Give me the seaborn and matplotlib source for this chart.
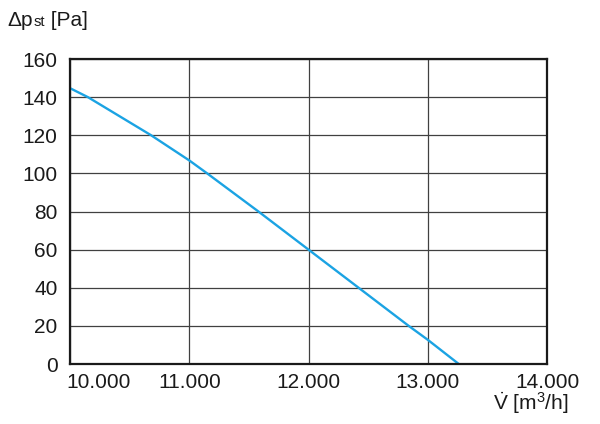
import matplotlib
matplotlib.use("Agg")
import matplotlib.pyplot as plt
import matplotlib.transforms as mtransforms
import seaborn as sns
import pandas as pd

# fan curve
flow = [10000, 10150, 10680, 11000, 11150, 11580, 12000, 12420, 12840, 13000, 13260]
pressure = [144.7, 140, 120, 106.8, 100, 80, 60, 40, 20, 12.7, 0]

x_ticks = [10000, 11000, 12000, 13000, 14000]
x_tick_labels = ['10.000', '11.000', '12.000', '13.000', '14.000']
y_ticks = [0, 20, 40, 60, 80, 100, 120, 140, 160]

sns.set_style('white')
plt.rcParams['font.family'] = ['Liberation Sans', 'DejaVu Sans']
plt.rcParams['mathtext.fontset'] = 'custom'
plt.rcParams['mathtext.rm'] = 'Liberation Sans'
plt.rcParams['mathtext.it'] = 'Liberation Sans:italic'

df = pd.DataFrame({'flow': flow, 'pressure': pressure})

fig = plt.figure(figsize=(6, 4.24), dpi=100)
ax = fig.add_axes([0.1167, 0.1415, 0.795, 0.7193])

sns.lineplot(data=df, x='flow', y='pressure', color='#1ba3e3', linewidth=1.7, ax=ax)

ax.set_xlim(10000, 14000)
ax.set_ylim(0, 160)
ax.set_xticks(x_ticks)
ax.set_xticklabels(x_tick_labels)
ax.set_yticks(y_ticks)
ax.set_xlabel('')
ax.set_ylabel('')

ax.grid(True, color='#404040', linewidth=0.9)
ax.set_axisbelow(True)
for side in ax.spines.values():
    side.set_color('#1a1a1a')
    side.set_linewidth(1.6)

ax.tick_params(axis='both', length=0, labelsize=15, colors='#1a1a1a')
ax.tick_params(axis='x', pad=6.5)
ax.tick_params(axis='y', pad=9)

# first x label sits inside the axis, not centred on it
first = ax.get_xticklabels()[0]
first.set_horizontalalignment('left')
first.set_transform(first.get_transform() + mtransforms.ScaledTranslation(-0.04, 0, fig.dpi_scale_trans))

# y axis title: delta p with smaller "st"
t1 = fig.text(0.013, 0.9375, '\u0394p', fontsize=15, color='#1a1a1a', va='baseline')
t2 = ax.annotate('st', xy=(1, 0.9375), xycoords=(t1, 'figure fraction'),
                 fontsize=10.5, color='#1a1a1a', va='baseline')
ax.annotate(' [Pa]', xy=(1, 0.9375), xycoords=(t2, 'figure fraction'),
            fontsize=15, color='#1a1a1a', va='baseline')

# x axis title
fig.text(0.948, 0.033, r'$\dot{\mathrm{V}}$ [m$^{\mathrm{3}}$/h]', fontsize=15,
         color='#1a1a1a', ha='right', va='baseline')

fig.savefig('out.png', dpi=100)
